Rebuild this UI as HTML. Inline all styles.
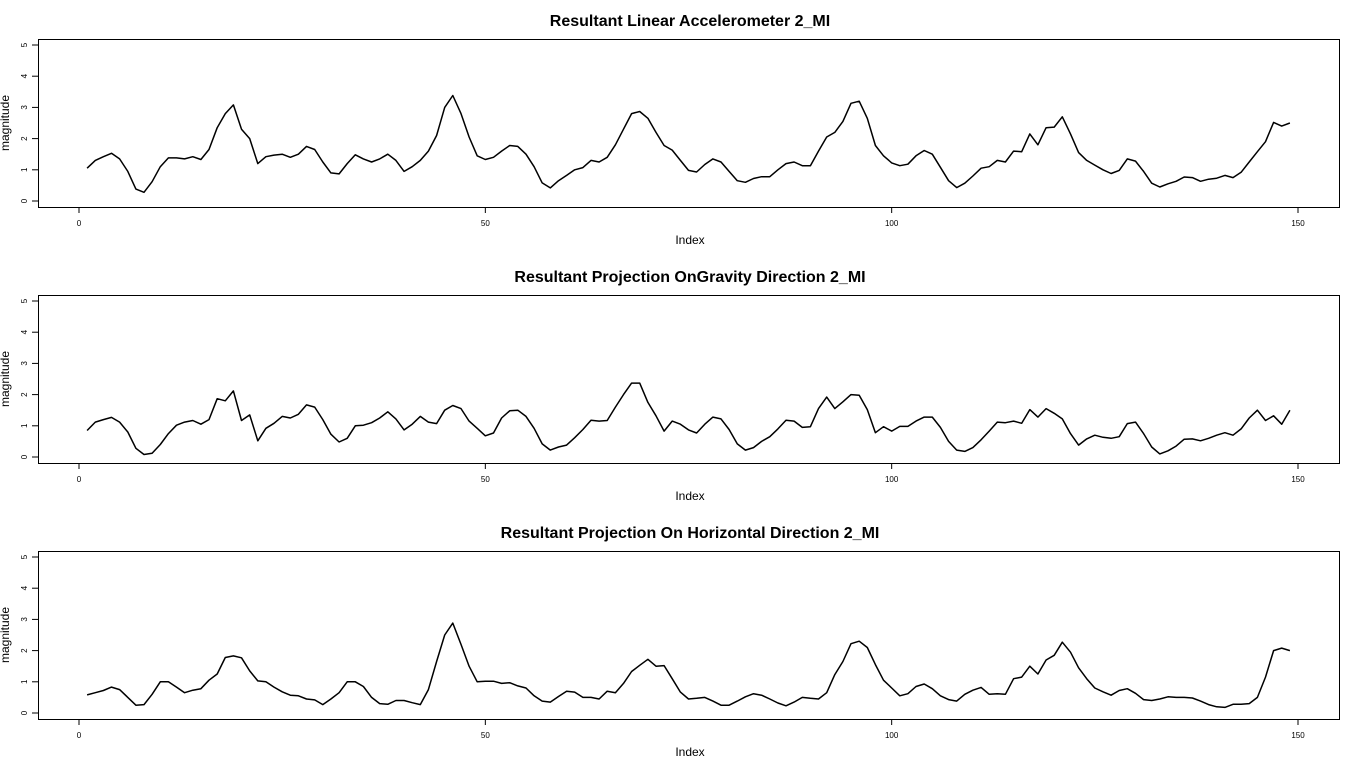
<!DOCTYPE html>
<html><head><meta charset="utf-8"><style>
body{margin:0;background:#fff}
svg{display:block;font-family:"Liberation Sans",sans-serif}
</style></head><body>
<svg id="chart" width="1360" height="768" viewBox="0 0 1360 768"></svg>
<script>
const panelTitles=["Resultant Linear Accelerometer 2_MI","Resultant Projection OnGravity Direction 2_MI","Resultant Projection On Horizontal Direction 2_MI"];
const xTicks=[0,50,100,150];
const yTicks=[0,1,2,3,4,5];
const seriesLinear=[1.05,1.3,1.42,1.53,1.35,0.95,0.38,0.28,0.62,1.1,1.38,1.38,1.35,1.42,1.33,1.65,2.35,2.8,3.08,2.3,2.0,1.2,1.42,1.47,1.5,1.4,1.5,1.75,1.65,1.25,0.9,0.87,1.2,1.48,1.35,1.25,1.35,1.5,1.3,0.95,1.1,1.3,1.6,2.1,3.0,3.38,2.8,2.05,1.45,1.33,1.4,1.6,1.78,1.75,1.5,1.1,0.58,0.42,0.65,0.82,1.0,1.07,1.3,1.25,1.4,1.8,2.3,2.8,2.87,2.65,2.2,1.78,1.63,1.3,0.98,0.93,1.17,1.35,1.25,0.95,0.65,0.6,0.72,0.78,0.78,1.0,1.2,1.25,1.13,1.13,1.6,2.05,2.2,2.55,3.13,3.2,2.65,1.78,1.45,1.22,1.13,1.18,1.45,1.62,1.5,1.08,0.65,0.43,0.57,0.8,1.05,1.1,1.3,1.25,1.6,1.58,2.15,1.8,2.35,2.37,2.7,2.15,1.55,1.3,1.15,1.0,0.88,0.98,1.35,1.28,0.95,0.57,0.45,0.55,0.63,0.77,0.75,0.63,0.7,0.73,0.82,0.75,0.92,1.25,1.58,1.9,2.52,2.4,2.5];
const seriesGravity=[0.85,1.12,1.2,1.27,1.12,0.8,0.28,0.08,0.12,0.4,0.75,1.02,1.12,1.17,1.05,1.2,1.87,1.8,2.12,1.17,1.35,0.52,0.92,1.08,1.3,1.25,1.37,1.67,1.6,1.2,0.73,0.48,0.6,1.0,1.02,1.1,1.25,1.45,1.22,0.87,1.05,1.3,1.12,1.07,1.5,1.65,1.55,1.15,0.92,0.68,0.77,1.25,1.48,1.5,1.3,0.92,0.42,0.22,0.32,0.38,0.62,0.88,1.18,1.15,1.17,1.6,2.0,2.37,2.37,1.75,1.32,0.83,1.15,1.05,0.87,0.77,1.05,1.28,1.22,0.88,0.42,0.22,0.3,0.5,0.65,0.9,1.18,1.15,0.95,0.97,1.55,1.92,1.55,1.77,2.0,1.98,1.52,0.78,0.97,0.83,0.98,0.98,1.15,1.28,1.28,0.95,0.5,0.22,0.18,0.3,0.55,0.83,1.12,1.1,1.15,1.08,1.52,1.28,1.55,1.4,1.22,0.75,0.38,0.58,0.7,0.63,0.6,0.65,1.07,1.12,0.75,0.32,0.1,0.2,0.35,0.57,0.58,0.52,0.6,0.7,0.78,0.7,0.9,1.25,1.5,1.17,1.32,1.05,1.5];
const seriesHorizontal=[0.58,0.65,0.72,0.83,0.75,0.5,0.25,0.27,0.6,1.0,1.0,0.83,0.65,0.73,0.78,1.05,1.25,1.78,1.83,1.77,1.35,1.03,1.0,0.83,0.68,0.57,0.55,0.45,0.42,0.27,0.45,0.65,1.0,1.0,0.85,0.5,0.3,0.28,0.4,0.4,0.33,0.27,0.75,1.65,2.5,2.88,2.2,1.5,1.0,1.02,1.02,0.95,0.97,0.87,0.8,0.55,0.38,0.35,0.53,0.7,0.67,0.5,0.5,0.45,0.7,0.65,0.95,1.33,1.53,1.72,1.5,1.52,1.1,0.67,0.45,0.47,0.5,0.38,0.25,0.25,0.38,0.52,0.62,0.57,0.45,0.32,0.23,0.35,0.5,0.47,0.45,0.65,1.23,1.65,2.22,2.3,2.1,1.55,1.05,0.8,0.55,0.62,0.85,0.93,0.78,0.55,0.43,0.38,0.6,0.73,0.82,0.6,0.62,0.6,1.1,1.15,1.5,1.25,1.7,1.85,2.27,1.95,1.45,1.1,0.8,0.68,0.57,0.72,0.78,0.63,0.43,0.4,0.45,0.52,0.5,0.5,0.48,0.38,0.27,0.2,0.18,0.28,0.28,0.3,0.5,1.15,2.0,2.08,2.0];
const allSeries=[seriesLinear,seriesGravity,seriesHorizontal];

const NS="http://www.w3.org/2000/svg";
const svg=document.getElementById('chart');
function mk(tag,attrs,parent){const e=document.createElementNS(NS,tag);for(const k in attrs)e.setAttribute(k,attrs[k]);(parent||svg).appendChild(e);return e;}
const X0=79,XS=(1298-79)/150;
function xScale(i){return X0+i*XS;}
allSeries.forEach((data,p)=>{
  const off=p*256;
  const yScale=v=>off+201-v*31.2;
  const g=mk('g',{});
  
  
  const t=mk('text',{x:690,y:off+26,'text-anchor':'middle','font-size':16,'font-weight':'bold',fill:'#000'},g);
  t.textContent=panelTitles[p];
  
  
  const box=mk('rect',{x:38.5,y:off+39.5,width:1301,height:168,fill:'none',stroke:'#000','stroke-width':1},g);
  
  
  xTicks.forEach(v=>{
    const x=xScale(v);
    mk('line',{x1:x,x2:x,y1:off+207,y2:off+213,stroke:'#000'},g);
    const l=mk('text',{x:x,y:off+226,'text-anchor':'middle','font-size':8,fill:'#000'},g);
    l.textContent=v;
    
    
  });
  yTicks.forEach(v=>{
    const y=yScale(v);
    mk('line',{x1:32,x2:38,y1:y,y2:y,stroke:'#000'},g);
    const l=mk('text',{x:0,y:0,'text-anchor':'middle','font-size':8,fill:'#000',transform:`translate(27,${y}) rotate(-90)`},g);
    l.textContent=v;
    
    
  });
  const xl=mk('text',{x:690,y:off+244,'text-anchor':'middle','font-size':12,fill:'#000'},g);
  xl.textContent='Index';
  
  
  const yl=mk('text',{x:0,y:0,'text-anchor':'middle','font-size':12,fill:'#000',transform:`translate(9,${off+123}) rotate(-90)`},g);
  yl.textContent='magnitude';
  
  
  const pts=data.map((v,i)=>xScale(i+1).toFixed(1)+','+yScale(v).toFixed(1)).join(' ');
  const line=mk('polyline',{points:pts,fill:'none',stroke:'#000','stroke-width':1.5,'stroke-linejoin':'round'},g);
  
  
});
</script>
</body></html>
